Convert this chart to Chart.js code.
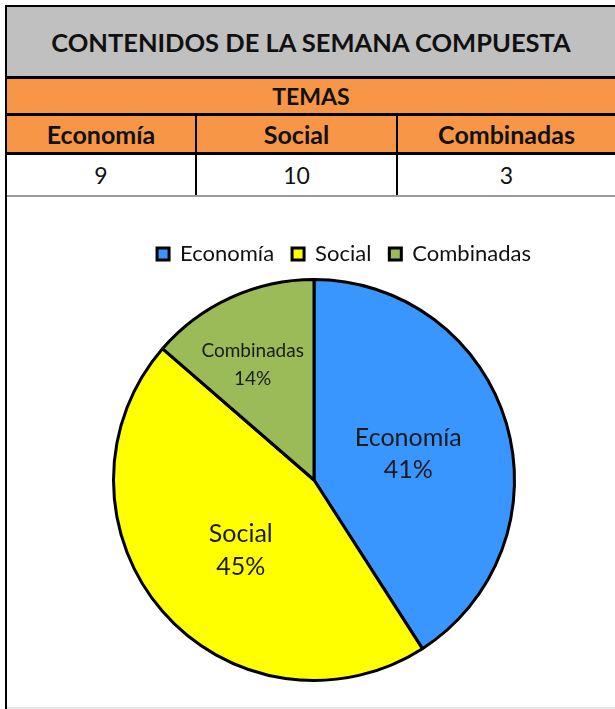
<!DOCTYPE html>
<html>
<head>
<meta charset="utf-8">
<script src="https://cdn.jsdelivr.net/npm/chart.js@4/dist/chart.umd.min.js"></script>
<style>
  body { margin: 0; background: #fff; width: 615px; height: 709px; overflow: hidden; position: relative; font-family: Lato, "Liberation Sans", sans-serif; color: #111; }
  .blk { position: absolute; }
  .cell { position: absolute; display: flex; align-items: center; justify-content: center; }
  #chartBox { position: absolute; left: 7px; top: 197px; width: 608px; height: 510px; }
</style>
</head>
<body>
<div class="blk" style="left:5px;top:5px;width:610px;height:2px;background:#000"></div>
<div class="blk" style="left:5px;top:5px;width:2px;height:704px;background:#000"></div>
<div class="cell" id="title" style="left:7px;top:7px;width:608px;height:69px;background:#c0c0c0;font-weight:bold;font-size:25.5px"></div>
<div class="blk" style="left:7px;top:76px;width:608px;height:3px;background:#000"></div>
<div class="cell" id="group" style="left:7px;top:79px;width:608px;height:34px;background:#f79646;font-weight:bold;font-size:23px"></div>
<div class="blk" style="left:7px;top:113px;width:608px;height:3px;background:#000"></div>
<div class="blk" style="left:7px;top:116px;width:608px;height:36px;background:#f79646"></div>
<div class="blk" style="left:7px;top:152px;width:608px;height:3px;background:#000"></div>
<div class="blk" style="left:7px;top:195px;width:608px;height:2px;background:#9a9a9a"></div>
<div class="blk" style="left:7px;top:707px;width:608px;height:2px;background:#e4e4e4"></div>
<div class="blk" style="left:195px;top:116px;width:2px;height:79px;background:#000"></div>
<div class="blk" style="left:396px;top:116px;width:2px;height:79px;background:#000"></div>
<div id="cells"></div>
<div id="chartBox"><canvas id="pie"></canvas></div>
<script>
var titleText = "CONTENIDOS DE LA SEMANA COMPUESTA";
var groupText = "TEMAS";
var categories = ["Economía", "Social", "Combinadas"];
var values = [9, 10, 3];
var colors = ["#3a96ff", "#ffff00", "#9bbb59"];

var colLeft = [7, 197, 398];
var colRight = [195, 396, 615];
var labelRadius = [0.49, 0.49, 0.64];
var labelDx = [0, 1, -8];
var labelDy = [2, 6, 2];
var labelFont = [25, 25, 19];
var labelLine = [32, 33, 28];

document.getElementById("title").textContent = titleText;
document.getElementById("group").textContent = groupText;

// header row + values row of the table
var cells = document.getElementById("cells");
categories.forEach(function (c, i) {
  var h = document.createElement("div");
  h.className = "cell";
  h.style.cssText = "left:" + colLeft[i] + "px;top:116px;width:" + (colRight[i] - colLeft[i]) + "px;height:36px;font-weight:bold;font-size:25px";
  h.textContent = c;
  cells.appendChild(h);
  var v = document.createElement("div");
  v.className = "cell";
  v.style.cssText = "left:" + colLeft[i] + "px;top:155px;width:" + (colRight[i] - colLeft[i]) + "px;height:40px;font-size:23px";
  v.textContent = values[i];
  cells.appendChild(v);
});

var total = values.reduce(function (a, b) { return a + b; }, 0);

// draw category name + percentage inside each slice
var sliceLabels = {
  id: "sliceLabels",
  afterDatasetsDraw: function (chart) {
    var ctx = chart.ctx;
    var meta = chart.getDatasetMeta(0);
    meta.data.forEach(function (arc, i) {
      var p = arc.getProps(["x", "y", "startAngle", "endAngle", "outerRadius"]);
      var mid = (p.startAngle + p.endAngle) / 2;
      var r = p.outerRadius * labelRadius[i];
      var x = p.x + Math.cos(mid) * r + labelDx[i];
      var y = p.y + Math.sin(mid) * r + labelDy[i];
      var pct = Math.round(values[i] / total * 100) + "%";
      ctx.save();
      ctx.fillStyle = "#1a1a1a";
      ctx.font = labelFont[i] + "px Lato, sans-serif";
      ctx.textAlign = "center";
      ctx.textBaseline = "middle";
      ctx.fillText(categories[i], x, y - labelLine[i] / 2);
      ctx.fillText(pct, x, y + labelLine[i] / 2);
      ctx.restore();
    });
  }
};

// legend sits a bit right of the pie centre in the original
var legendShift = {
  id: "legendShift",
  afterLayout: function (chart) {
    chart.legend.left += 30;
    chart.legend.right += 30;
    chart.legend.top -= 3;
    chart.legend.bottom -= 3;
  }
};

new Chart(document.getElementById("pie"), {
  type: "pie",
  data: {
    labels: categories,
    datasets: [{
      data: values,
      backgroundColor: colors,
      borderColor: "#000",
      borderWidth: 3
    }]
  },
  plugins: [sliceLabels, legendShift],
  options: {
    responsive: true,
    maintainAspectRatio: false,
    animation: false,
    layout: { padding: { top: 31, bottom: 25, left: 6 } },
    plugins: {
      tooltip: { enabled: false },
      legend: {
        position: "top",
        labels: {
          boxWidth: 12,
          boxHeight: 12,
          padding: 18,
          color: "#111",
          font: { family: "Lato, sans-serif", size: 22 }
        }
      }
    }
  }
});
</script>
</body>
</html>
